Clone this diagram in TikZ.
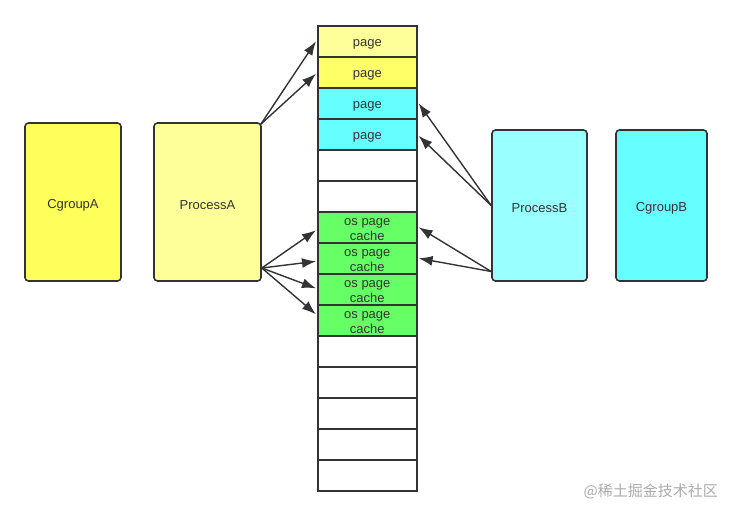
\documentclass[tikz,border=0pt]{standalone}
\usepackage{fontspec}
\setmainfont{Liberation Sans}
\newfontfamily\cjkfont{Noto Sans CJK SC}
\usetikzlibrary{arrows.meta}
\definecolor{lineC}{HTML}{333333}
\definecolor{yelA}{HTML}{FFFF5C}
\definecolor{yelP}{HTML}{FFFF99}
\definecolor{yelM}{HTML}{FFFF66}
\definecolor{cyanC}{HTML}{66FFFF}
\definecolor{cyanP}{HTML}{99FFFF}
\definecolor{greenC}{HTML}{66FF66}
\definecolor{txt}{HTML}{333333}
\begin{document}
\begin{tikzpicture}[x=1pt,y=-1pt,
  bigbox/.style={draw=lineC,line width=1.6pt,rounded corners=3.5pt,minimum width=#1,inner sep=0pt},
  cell/.style={draw=lineC,line width=1.6pt,minimum width=99pt,minimum height=31pt,inner sep=0pt,anchor=north west},
  lbl/.style={font=\fontsize{13}{15}\selectfont,text=txt,align=center,inner sep=0pt},
  arr/.style={draw=lineC,line width=1.4pt,-{Latex[length=14pt,width=10pt]}}]
\useasboundingbox (0,0) rectangle (732,515);
% boxes
\node[bigbox=96pt,fill=yelA,minimum height=158pt,label={[lbl,yshift=-3pt]center:CgroupA}] (ca) at (73,202) {};
\node[bigbox=107pt,fill=yelP,minimum height=158pt,label={[lbl,yshift=-3pt]center:ProcessA}] (pa) at (207.5,202) {};
\node[bigbox=95pt,fill=cyanP,minimum height=151pt,label={[lbl,yshift=-3pt]center:ProcessB}] (pb) at (539.5,205.5) {};
\node[bigbox=91pt,fill=cyanC,minimum height=151pt,label={[lbl,yshift=-3pt]center:CgroupB}] (cb) at (661.5,205.5) {};
% cells
\node[cell,fill=yelP] (c1) at (317,25) {};
\node[cell,fill=yelM] (c2) at (317,56) {};
\node[cell,fill=cyanC] (c3) at (317,87) {};
\node[cell,fill=cyanC] (c4) at (317,118) {};
\node[cell,fill=white] (c5) at (317,149) {};
\node[cell,fill=white] (c6) at (317,180) {};
\node[cell,fill=greenC] (c7) at (317,211) {};
\node[cell,fill=greenC] (c8) at (317,242) {};
\node[cell,fill=greenC] (c9) at (317,273) {};
\node[cell,fill=greenC] (c10) at (317,304) {};
\node[cell,fill=white] (c11) at (317,335) {};
\node[cell,fill=white] (c12) at (317,366) {};
\node[cell,fill=white] (c13) at (317,397) {};
\node[cell,fill=white] (c14) at (317,428) {};
\node[cell,fill=white] (c15) at (317,459) {};
% labels
\node[lbl,yshift=-3pt] (t1) at (c1.center) {page};
\node[lbl,yshift=-3pt] (t2) at (c2.center) {page};
\node[lbl,yshift=-3pt] (t3) at (c3.center) {page};
\node[lbl,yshift=-3pt] (t4) at (c4.center) {page};
\foreach \i in {7,8,9,10}{
  \node[lbl,yshift=-2.5pt] (t\i) at (c\i.center) {os page\\[0pt]cache};
}
% arrows from ProcessA
\draw[arr] ([xshift=-1pt,yshift=-2pt]pa.north east) -- ([xshift=-1pt]c1.west);
\draw[arr] ([xshift=-1pt,yshift=-2pt]pa.north east) -- ([xshift=-1pt,yshift=-1.5pt]c2.west);
\draw[arr] ([yshift=-66pt]pa.east) -- ([xshift=-1pt,yshift=-3pt]c7.west);
\draw[arr] ([yshift=-66pt]pa.east) -- ([xshift=-1pt,yshift=-3pt]c8.west);
\draw[arr] ([yshift=-66pt]pa.east) -- ([xshift=-1pt,yshift=1pt]c9.west);
\draw[arr] ([yshift=-66pt]pa.east) -- ([xshift=-1pt,yshift=6pt]c10.west);
% arrows from ProcessB
\draw[arr] (pb.west) -- ([xshift=1pt]c3.east);
\draw[arr] (pb.west) -- ([xshift=1pt,yshift=-1.5pt]c4.east);
\draw[arr] ([yshift=-66pt]pb.west) -- ([xshift=1pt]c7.east);
\draw[arr] ([yshift=-66pt]pb.west) -- ([xshift=1pt]c8.east);
% watermark
\node[anchor=east,inner sep=0pt,text=black!33,font=\cjkfont\fontsize{15}{17}\selectfont] (wm) at (718,491) {@稀土掘金技术社区};
\end{tikzpicture}
\end{document}
